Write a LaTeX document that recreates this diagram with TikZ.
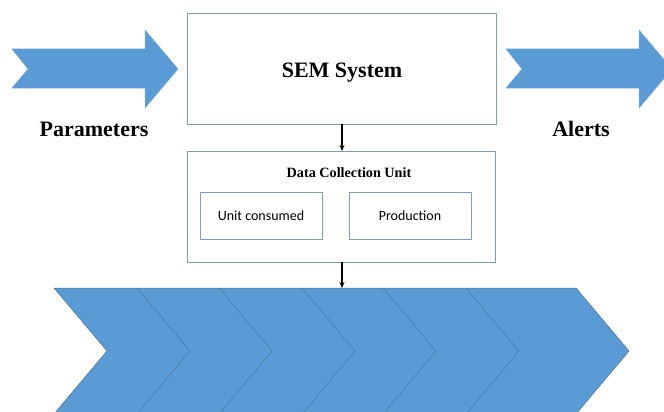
\documentclass[tikz,border=0pt]{standalone}
\usepackage{fontspec}
\setmainfont{Liberation Serif}
\newfontfamily\calib{Carlito}
\usetikzlibrary{arrows.meta}
\definecolor{fillblue}{RGB}{91,155,213}
\definecolor{edgeblue}{RGB}{65,113,156}
\definecolor{boxline}{RGB}{125,155,195}
\tikzset{
  box/.style={draw=boxline,line width=0.9pt,fill=white,inner sep=0pt,outer sep=0pt},
  bigarrow/.style={fill=fillblue,draw=fillblue!85!white,line width=0.5pt},
  conn/.style={-{Stealth[length=6pt,width=5pt]},line width=1.4pt,black},
  sep/.style={draw=edgeblue,line width=0.4pt}
}
\begin{document}
\begin{tikzpicture}[x=1pt,y=-1pt]
\useasboundingbox (0,0) rectangle (664,412);
\begin{scope}
\clip (0,0) rectangle (664,412);
% side arrows
\path[bigarrow] (12,49) -- (145,49) -- (145,30) -- (178,69) -- (145,108) -- (145,88) -- (12,88) -- (28,69) -- cycle;
\path[bigarrow] (506,49) -- (639,49) -- (639,30) -- (672,69) -- (639,108) -- (639,88) -- (506,88) -- (522,69) -- cycle;
% chevrons
\path[fill=fillblue,draw=edgeblue,line width=0.5pt] (54,288) -- (576,288) -- (629,351) -- (576,414) -- (54,414) -- (107,351) -- cycle;
\foreach \t in {137,219,302,383,466}{
  \draw[sep] (\t,288) -- (\t+53,351) -- (\t,414);
}
\end{scope}
\coordinate (chev) at (342,288);
% labels
\node[font=\bfseries\fontsize{22}{24}\selectfont] (par) at (94,129) {Parameters};
\node[font=\bfseries\fontsize{22}{24}\selectfont] (alr) at (581,129) {Alerts};
% boxes
\node[box,minimum width=309pt,minimum height=111pt] (sem) at (341.5,68.5) {};
\node[font=\bfseries\fontsize{22}{24}\selectfont] (semt) at (342,73) {SEM System};
\node[box,minimum width=308pt,minimum height=111pt] (dcu) at (341,206.5) {};
\node[font=\bfseries\fontsize{14.2}{16}\selectfont] (dcut) at (349,172.5) {Data Collection Unit};
\node[box,minimum width=122pt,minimum height=47pt,font=\calib\fontsize{14}{16}\selectfont] (uc) at (261,215.5) {Unit consumed};
\node[box,minimum width=122pt,minimum height=47pt,font=\calib\fontsize{14}{16}\selectfont] (pr) at (410,215.5) {Production};
% connectors
\draw[conn] (sem.south -| chev) -- (dcu.north -| chev);
\draw[conn] (dcu.south -| chev) -- (chev);
\end{tikzpicture}
\end{document}
